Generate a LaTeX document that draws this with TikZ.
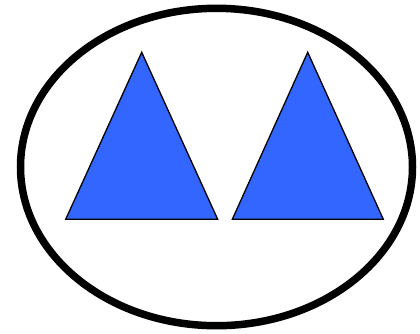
\documentclass[tikz,border=0pt]{standalone}
\definecolor{triblue}{HTML}{3366FF}
\begin{document}
\begin{tikzpicture}[x=1pt,y=-1pt,
  frame/.style={draw=black,line width=7.5pt},
  tri/.style={draw=black,fill=triblue,line width=1.3pt,line join=miter}]
\useasboundingbox[fill=white] (0,0) rectangle (420,333);
\draw[frame] (216.5,167) ellipse [x radius=196,y radius=158.7];
\coordinate (a1) at (141.7,52.3);
\coordinate (b1) at (65.7,219.3);
\coordinate (c1) at (217.7,219.3);
\coordinate (a2) at (307.7,52.3);
\coordinate (b2) at (232.3,219.3);
\coordinate (c2) at (383.3,219.3);
\draw[tri] (a1) -- (c1) -- (b1) -- cycle;
\draw[tri] (a2) -- (c2) -- (b2) -- cycle;
\end{tikzpicture}
\end{document}
